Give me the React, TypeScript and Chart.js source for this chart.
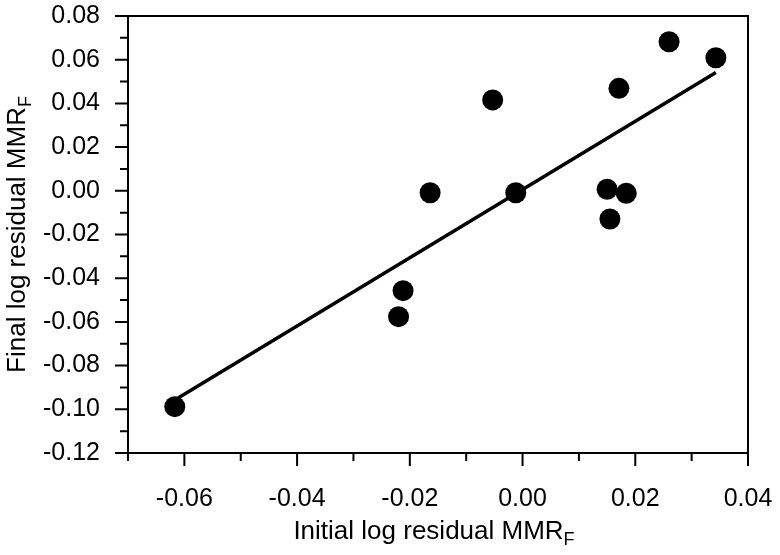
import React, { useEffect, useRef } from "react";
import { Chart, registerables } from "chart.js";

Chart.register(...registerables);

// Data
const initialResidual = [-0.0617, -0.022, -0.0212, -0.0164, -0.0053, -0.0012, 0.015, 0.0155, 0.0171, 0.0184, 0.026, 0.0343];
const finalResidual = [-0.0988, -0.0576, -0.0457, -0.0009, 0.0416, -0.0009, 0.0007, -0.0129, 0.0469, -0.0011, 0.0682, 0.0609];
const fitX = [-0.0617, 0.0343];
const fitY = [-0.0957, 0.0541];

const xTicks = [-0.06, -0.04, -0.02, 0.0, 0.02, 0.04];
const xMinorTicks = [-0.07, -0.05, -0.03, -0.01, 0.01, 0.03];
const yTicks = [-0.12, -0.1, -0.08, -0.06, -0.04, -0.02, 0.0, 0.02, 0.04, 0.06, 0.08];
const yMinorTicks = [-0.11, -0.09, -0.07, -0.05, -0.03, -0.01, 0.01, 0.03, 0.05, 0.07];

const xTitle = "Initial log residual MMR";
const yTitle = "Final log residual MMR";
const titleSub = "F";

const FONT = "'Liberation Sans', Arial, Helvetica, sans-serif";

const framePlugin = {
  id: "frameAndTitles",
  afterDraw(chart: any) {
    const { ctx, chartArea, scales } = chart;
    const { left, right, top, bottom } = chartArea;
    const xs = scales.x;
    const ys = scales.y;
    ctx.save();
    ctx.strokeStyle = "#000";
    ctx.lineWidth = 2;
    ctx.strokeRect(left, top, right - left, bottom - top);
    ctx.beginPath();
    xTicks.forEach((v) => {
      const px = xs.getPixelForValue(v);
      ctx.moveTo(px, bottom);
      ctx.lineTo(px, bottom + 13);
    });
    xMinorTicks.forEach((v) => {
      const px = xs.getPixelForValue(v);
      ctx.moveTo(px, bottom);
      ctx.lineTo(px, bottom + 8);
    });
    yTicks.forEach((v) => {
      const py = ys.getPixelForValue(v);
      ctx.moveTo(left, py);
      ctx.lineTo(left - 13, py);
    });
    yMinorTicks.forEach((v) => {
      const py = ys.getPixelForValue(v);
      ctx.moveTo(left, py);
      ctx.lineTo(left - 8, py);
    });
    ctx.stroke();

    // titles with subscript
    const drawTitle = (text: string, cx: number, baseY: number) => {
      ctx.fillStyle = "#000";
      ctx.textBaseline = "alphabetic";
      ctx.textAlign = "left";
      ctx.font = `26px ${FONT}`;
      const w = ctx.measureText(text).width;
      ctx.font = `18px ${FONT}`;
      const ws = ctx.measureText(titleSub).width;
      const start = cx - (w + ws) / 2;
      ctx.font = `26px ${FONT}`;
      ctx.fillText(text, start, baseY);
      ctx.font = `18px ${FONT}`;
      ctx.fillText(titleSub, start + w, baseY + 6);
    };
    drawTitle(xTitle, (left + right) / 2 - 4, 539);
    ctx.save();
    ctx.translate(25, (top + bottom) / 2);
    ctx.rotate(-Math.PI / 2);
    drawTitle(yTitle, 0, 0);
    ctx.restore();
    ctx.restore();
  },
};

const zeroPad = (scale: any) => {
  scale.paddingTop = 0;
  scale.paddingBottom = 0;
  scale.paddingLeft = 0;
  scale.paddingRight = 0;
};

export default function App() {
  const canvasRef = useRef<HTMLCanvasElement | null>(null);

  useEffect(() => {
    document.body.style.margin = "0";
    const canvas = canvasRef.current;
    if (!canvas) return;
    const chart = new Chart(canvas, {
      type: "scatter",
      data: {
        datasets: [
          {
            type: "line",
            data: fitX.map((x, i) => ({ x, y: fitY[i] })),
            borderColor: "#000",
            borderWidth: 3.5,
            pointRadius: 0,
            fill: false,
          } as any,
          {
            type: "scatter",
            data: initialResidual.map((x, i) => ({ x, y: finalResidual[i] })),
            backgroundColor: "#000",
            borderColor: "#000",
            pointRadius: 10.5,
            pointHoverRadius: 10.5,
            borderWidth: 0,
          },
        ],
      },
      options: {
        responsive: false,
        animation: false,
        devicePixelRatio: 1,
        layout: { padding: { top: 16, right: 32, left: 0, bottom: 0 } },
        plugins: {
          legend: { display: false },
          tooltip: { enabled: false },
        },
        scales: {
          x: {
            type: "linear",
            min: -0.07,
            max: 0.04,
            grid: { display: false },
            border: { display: false },
            afterBuildTicks: (scale: any) => {
              scale.ticks = xTicks.map((v) => ({ value: v }));
            },
            afterFit: (scale: any) => {
              scale.height = 102;
              zeroPad(scale);
            },
            ticks: {
              padding: 23,
              color: "#000",
              font: { family: FONT, size: 25 },
              maxRotation: 0,
              callback: (v: any) => Number(v).toFixed(2),
            },
          },
          y: {
            type: "linear",
            min: -0.12,
            max: 0.08,
            grid: { display: false },
            border: { display: false },
            afterBuildTicks: (scale: any) => {
              scale.ticks = yTicks.map((v) => ({ value: v }));
            },
            afterFit: (scale: any) => {
              scale.width = 128;
              zeroPad(scale);
            },
            ticks: {
              padding: 20,
              color: "#000",
              font: { family: FONT, size: 25 },
              callback: (v: any) => Number(v).toFixed(2),
            },
          },
        },
      },
      plugins: [framePlugin],
    });
    return () => chart.destroy();
  }, []);

  return (
    <div style={{ width: 780, height: 555 }}>
      <canvas ref={canvasRef} width={780} height={555} />
    </div>
  );
}
